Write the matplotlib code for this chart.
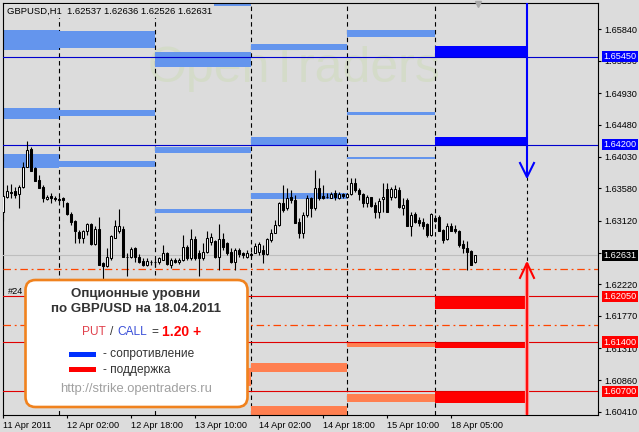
import matplotlib
matplotlib.use('Agg')
import matplotlib.pyplot as plt
from matplotlib.patches import FancyBboxPatch, Rectangle
from matplotlib.transforms import IdentityTransform
import numpy as np

plt.rcParams['font.family'] = ['Liberation Sans', 'DejaVu Sans']

# ---------------- data ----------------
header = "GBPUSD,H1  1.62537 1.62636 1.62526 1.62631"

opens = [1.6325, 1.6346, 1.6353, 1.6354, 1.6350, 1.6360, 1.6389, 1.6414, 1.6387, 1.6370,
         1.6360, 1.6343, 1.6347, 1.6344, 1.6343, 1.6344, 1.6337, 1.6321, 1.6312, 1.6296,
         1.6287, 1.6297, 1.6307, 1.6279, 1.6301, 1.6252, 1.6248, 1.6259, 1.6287, 1.6298,
         1.6300, 1.6261, 1.6260, 1.6273, 1.6260, 1.6255, 1.6250, 1.6254, 1.6254, 1.6253,
         1.6257, 1.6267, 1.6250, 1.6256, 1.6253, 1.6256, 1.6275, 1.6259, 1.6286, 1.6267,
         1.6259, 1.6268, 1.6282, 1.6283, 1.6261, 1.6286, 1.6280, 1.6268, 1.6253, 1.6271,
         1.6267, 1.6261, 1.6265, 1.6267, 1.6268, 1.6270, 1.6265, 1.6285, 1.6295, 1.6306,
         1.6337, 1.6330, 1.6346, 1.6342, 1.6311, 1.6295, 1.6320, 1.6344, 1.6330, 1.6359,
         1.6347, 1.6346, 1.6345, 1.6351, 1.6345, 1.6350, 1.6346, 1.6350, 1.6366, 1.6356,
         1.6350, 1.6337, 1.6346, 1.6335, 1.6325, 1.6343, 1.6357, 1.6346, 1.6346, 1.6356,
         1.6330, 1.6342, 1.6305, 1.6321, 1.6313, 1.6311, 1.6307, 1.6292, 1.6316, 1.6318,
         1.6299, 1.6286, 1.6305, 1.6301, 1.6298, 1.6279, 1.6274, 1.6269, 1.62537]
highs = [1.6350, 1.6363, 1.6364, 1.6360, 1.6363, 1.6396, 1.6425, 1.6416, 1.6389, 1.6377,
         1.6363, 1.6349, 1.6351, 1.6347, 1.6346, 1.6346, 1.6339, 1.6324, 1.6313, 1.6299,
         1.6299, 1.6309, 1.6309, 1.6304, 1.6318, 1.6254, 1.6274, 1.6292, 1.6313, 1.6329,
         1.6304, 1.6266, 1.6275, 1.6275, 1.6265, 1.6259, 1.6259, 1.6257, 1.6259, 1.6261,
         1.6278, 1.6268, 1.6259, 1.6259, 1.6259, 1.6292, 1.6278, 1.6300, 1.6290, 1.6271,
         1.6280, 1.6297, 1.6294, 1.6285, 1.6308, 1.6294, 1.6282, 1.6273, 1.6273, 1.6273,
         1.6268, 1.6271, 1.6268, 1.6280, 1.6282, 1.6278, 1.6287, 1.6301, 1.6313, 1.6339,
         1.6363, 1.6358, 1.6356, 1.6349, 1.6316, 1.6325, 1.6349, 1.6346, 1.6384, 1.6372,
         1.6363, 1.6351, 1.6353, 1.6356, 1.6353, 1.6351, 1.6352, 1.6372, 1.6372, 1.6358,
         1.6351, 1.6349, 1.6346, 1.6339, 1.6344, 1.6365, 1.6365, 1.6360, 1.6363, 1.6360,
         1.6344, 1.6344, 1.6325, 1.6325, 1.6318, 1.6316, 1.6309, 1.6323, 1.6320, 1.6320,
         1.6301, 1.6309, 1.6309, 1.6306, 1.6299, 1.6285, 1.6283, 1.6271, 1.62636]
lows = [1.6312, 1.6344, 1.6344, 1.6344, 1.6330, 1.6359, 1.6388, 1.6382, 1.6368, 1.6358,
        1.6339, 1.6342, 1.6337, 1.6340, 1.6339, 1.6332, 1.6320, 1.6306, 1.6280, 1.6280,
        1.6280, 1.6292, 1.6278, 1.6278, 1.6249, 1.6230, 1.6247, 1.6256, 1.6287, 1.6295,
        1.6260, 1.6234, 1.6259, 1.6254, 1.6252, 1.6248, 1.6248, 1.6249, 1.6247, 1.6251,
        1.6256, 1.6249, 1.6245, 1.6252, 1.6251, 1.6255, 1.6256, 1.6257, 1.6256, 1.6234,
        1.6256, 1.6266, 1.6278, 1.6259, 1.6242, 1.6271, 1.6264, 1.6252, 1.6242, 1.6261,
        1.6259, 1.6259, 1.6261, 1.6266, 1.6264, 1.6252, 1.6264, 1.6282, 1.6294, 1.6304,
        1.6325, 1.6327, 1.6337, 1.6309, 1.6287, 1.6287, 1.6318, 1.6318, 1.6327, 1.6342,
        1.6343, 1.6344, 1.6344, 1.6342, 1.6343, 1.6345, 1.6344, 1.6349, 1.6353, 1.6342,
        1.6332, 1.6332, 1.6332, 1.6316, 1.6316, 1.6325, 1.6325, 1.6342, 1.6344, 1.6330,
        1.6320, 1.6304, 1.6291, 1.6309, 1.6304, 1.6301, 1.6289, 1.6291, 1.6311, 1.6297,
        1.6280, 1.6285, 1.6297, 1.6294, 1.6275, 1.6266, 1.6242, 1.6249, 1.62526]
closes = [1.6347, 1.6354, 1.6352, 1.6349, 1.6360, 1.6389, 1.6412, 1.6383, 1.6369, 1.6359,
          1.6344, 1.6346, 1.6344, 1.6343, 1.6342, 1.6341, 1.6321, 1.6311, 1.6297, 1.6287,
          1.6297, 1.6307, 1.6279, 1.6301, 1.6250, 1.6248, 1.6260, 1.6290, 1.6305, 1.6305,
          1.6261, 1.6260, 1.6272, 1.6261, 1.6254, 1.6249, 1.6255, 1.6253, 1.6253, 1.6259,
          1.6267, 1.6251, 1.6256, 1.6253, 1.6256, 1.6275, 1.6259, 1.6286, 1.6259, 1.6259,
          1.6268, 1.6287, 1.6289, 1.6261, 1.6286, 1.6275, 1.6267, 1.6253, 1.6271, 1.6265,
          1.6263, 1.6267, 1.6264, 1.6276, 1.6279, 1.6265, 1.6286, 1.6294, 1.6306, 1.6337,
          1.6328, 1.6344, 1.6341, 1.6309, 1.6295, 1.6320, 1.6344, 1.6330, 1.6359, 1.6344,
          1.6344, 1.6346, 1.6350, 1.6346, 1.6350, 1.6347, 1.6350, 1.6366, 1.6355, 1.6350,
          1.6337, 1.6346, 1.6333, 1.6325, 1.6340, 1.6346, 1.6325, 1.6357, 1.6357, 1.6331,
          1.6334, 1.6305, 1.6320, 1.6311, 1.6309, 1.6304, 1.6292, 1.6321, 1.6312, 1.6298,
          1.6285, 1.6305, 1.6298, 1.6297, 1.6278, 1.6273, 1.6268, 1.6250, 1.62631]

time_ticks = [0, 16, 32, 48, 64, 80, 96, 112]
time_labels = ["11 Apr 2011", "12 Apr 02:00", "12 Apr 18:00", "13 Apr 10:00",
               "14 Apr 02:00", "14 Apr 18:00", "15 Apr 10:00", "18 Apr 05:00"]
day_breaks = [14, 38, 62, 86, 108]
seg_edges = [-0.25, 14, 38, 62, 86, 108, 131]

# resistance levels (segment index, upper, lower)
res_seg = [0, 0, 0, 1, 1, 1, 1, 2, 2, 2, 2, 3, 3, 3, 4, 4, 4, 5, 5]
res_hi = [1.6583, 1.6472, 1.6407, 1.6630, 1.6581, 1.6469, 1.6397, 1.6630, 1.6551, 1.6417,
          1.6329, 1.6563, 1.6431, 1.6352, 1.6583, 1.6466, 1.6402, 1.6560, 1.6431]
res_lo = [1.6554, 1.6456, 1.6387, 1.6620, 1.6557, 1.6461, 1.6389, 1.6616, 1.6530, 1.6408,
          1.6323, 1.6554, 1.6420, 1.6343, 1.6573, 1.6462, 1.6400, 1.6545, 1.6420]
# support levels
sup_seg = [2, 3, 3, 4, 4, 5, 5, 5]
sup_hi = [1.6103, 1.6110, 1.6049, 1.6139, 1.6066, 1.6205, 1.6140, 1.6070]
sup_lo = [1.6078, 1.6098, 1.6030, 1.6133, 1.6055, 1.6187, 1.6131, 1.6054]

price_ticks = [1.65840, 1.65390, 1.64930, 1.64480, 1.64030, 1.63580, 1.63120,
               1.62670, 1.62220, 1.61770, 1.61310, 1.60860, 1.60410]
res_lines = [1.65450, 1.64200]
sup_lines = [1.62050, 1.61400, 1.60700]
pivot_lines = [1.62437, 1.61643]
last_price = 1.62631
expiry_index = 131
blue_arrow_tip = 1.6374
red_arrow_tip = 1.6252

BG = '#DCDCDC'
ymin, ymax = 1.60366, 1.66213

fig = plt.figure(figsize=(6.39, 4.32), dpi=100, facecolor=BG)
ax = fig.add_axes([2.7 / 639, 17 / 432, (598 - 2.7) / 639, (415 - 2.7) / 432])
ax.set_facecolor(BG)
ax.set_xlim(-0.075, 148.75)
ax.set_ylim(ymin, ymax)

# watermark
ax.text(0.49, 0.84, 'OpenTraders', transform=ax.transAxes, fontsize=36,
        color='#D4DBC9', ha='center', va='center', zorder=0.5)

# day separators
for d in day_breaks:
    ax.axvline(d, color='black', lw=0.8, ls=(0, (4, 3)), zorder=1.5)

# level rectangles
for seg, hi, lo in zip(res_seg, res_hi, res_lo):
    x0, x1 = seg_edges[seg], seg_edges[seg + 1]
    col = '#0000FF' if seg == 5 else '#6495ED'
    ax.bar(x0, hi - lo, width=x1 - x0, bottom=lo, align='edge', color=col, lw=0, zorder=2)
for seg, hi, lo in zip(sup_seg, sup_hi, sup_lo):
    x0, x1 = seg_edges[seg], seg_edges[seg + 1]
    col = '#FF0000' if seg == 5 else '#FF7F50'
    ax.bar(x0, hi - lo, width=x1 - x0, bottom=lo, align='edge', color=col, lw=0, zorder=2)

# horizontal lines
for p in res_lines:
    ax.axhline(p, color='#0000CD', lw=0.8, zorder=3)
for p in sup_lines:
    ax.axhline(p, color='#E00000', lw=0.8, zorder=3)
for p in pivot_lines:
    ax.axhline(p, color='#FF4500', lw=0.9, ls=(0, (6, 3, 1.5, 3)), zorder=3)
ax.axhline(last_price, color='#BEBEBE', lw=0.8, zorder=3)

# expiry arrows
ax.plot([expiry_index, expiry_index], [ymax + 0.001, blue_arrow_tip], color='#0000FF', lw=1.5,
        zorder=6, solid_capstyle='butt')
ax.plot([expiry_index - 1.75, expiry_index, expiry_index + 1.75],
        [blue_arrow_tip + 0.0020, blue_arrow_tip, blue_arrow_tip + 0.0020],
        color='#0000FF', lw=1.5, zorder=6)
ax.plot([expiry_index, expiry_index], [blue_arrow_tip, red_arrow_tip], color='black', lw=0.8,
        ls=(0, (3, 3)), zorder=5)
ax.plot([expiry_index, expiry_index], [red_arrow_tip, ymin - 0.001], color='#FF9090', lw=3,
        zorder=6, solid_capstyle='butt')
ax.plot([expiry_index, expiry_index], [red_arrow_tip, ymin - 0.001], color='#FF0000', lw=1.3,
        zorder=6, solid_capstyle='butt')
ax.plot([expiry_index - 1.75, expiry_index, expiry_index + 1.75],
        [red_arrow_tip - 0.0021, red_arrow_tip, red_arrow_tip - 0.0021],
        color='#FF0000', lw=1.5, zorder=6)

# candles
x = np.arange(len(opens))
o = np.array(opens)
c = np.array(closes)
ax.vlines(x, lows, highs, color='black', lw=0.8, zorder=4)
bull = c >= o
ax.bar(x[bull], c[bull] - o[bull], bottom=o[bull], width=0.5, facecolor='white',
       edgecolor='black', lw=0.75, zorder=5)
ax.bar(x[~bull], o[~bull] - c[~bull], bottom=c[~bull], width=0.5, facecolor='black',
       edgecolor='black', lw=0.75, zorder=5)

# shift marker
ax.plot([118.75], [1.66190], marker='v', color='#A8A8A8', ms=5, zorder=6, clip_on=False)

# axes styling
for s in ax.spines.values():
    s.set_linewidth(0.8)
    s.set_color('black')
ax.yaxis.tick_right()
ax.set_yticks(price_ticks)
ax.set_yticklabels([f"{p:.5f}" for p in price_ticks])
ax.tick_params(axis='y', direction='out', length=2.5, width=0.8, pad=2, labelsize=6.6)
ax.set_xticks(time_ticks)
ax.set_xticklabels(time_labels, ha='left')
ax.tick_params(axis='x', direction='out', length=2.5, width=0.8, pad=1.5, labelsize=6.6)


def price_tag(p, fc):
    ax.annotate(f"{p:.5f}", xy=(1, p), xycoords=('axes fraction', 'data'), xytext=(3.9, 0),
                textcoords='offset points', ha='left', va='center', fontsize=6.6, color='white',
                bbox=dict(boxstyle='square,pad=0.12', fc=fc, ec='none'),
                annotation_clip=False, zorder=10)


for p in res_lines:
    price_tag(p, '#0000FF')
for p in sup_lines:
    price_tag(p, '#FF0000')
price_tag(last_price, '#000000')

# header
idt = IdentityTransform()
fig.text(7, 421, header, transform=idt, ha='left', va='center', fontsize=6.8, color='black',
         bbox=dict(boxstyle='square,pad=0.25', fc=BG, ec='none'), zorder=5)
fig.text(8, 141, '#24', transform=idt, ha='left', va='center', fontsize=6.6, color='black', zorder=5)

# info box
box = FancyBboxPatch((25.5, 25), 222, 127, boxstyle='round,pad=0,rounding_size=10',
                     transform=idt, fc='white', ec='#F0821E', lw=1.9, zorder=6)
fig.add_artist(box)
dark = '#333333'
fig.text(136, 138, 'Опционные уровни', transform=idt, ha='center', va='center',
         fontsize=9.6, fontweight='bold', color=dark, zorder=7)
fig.text(136, 123, 'по GBP/USD на 18.04.2011', transform=idt, ha='center', va='center',
         fontsize=9.6, fontweight='bold', color=dark, zorder=7)
fig.text(82, 100, 'PUT', transform=idt, ha='left', va='center', fontsize=8.6, color='#E0404C', zorder=7)
fig.text(109.5, 100, '/', transform=idt, ha='left', va='center', fontsize=8.6, color=dark, zorder=7)
fig.text(117, 100, 'CALL', transform=idt, ha='left', va='center', fontsize=8.6, color='#3A4FD8', zorder=7)
fig.text(151.5, 100, '=', transform=idt, ha='left', va='center', fontsize=8.6, color=dark, zorder=7)
fig.text(162.5, 100.5, '1.20 +', transform=idt, ha='left', va='center', fontsize=10,
         fontweight='bold', color='#FF0000', zorder=7)
fig.add_artist(Rectangle((69, 75), 27, 5, transform=idt, fc='#0030FF', ec='none', zorder=7))
fig.add_artist(Rectangle((69, 60), 27, 5, transform=idt, fc='#FF0000', ec='none', zorder=7))
fig.text(103, 77.5, '- сопротивление', transform=idt, ha='left', va='center', fontsize=8.6,
         color=dark, zorder=7)
fig.text(103, 62.5, '- поддержка', transform=idt, ha='left', va='center', fontsize=8.6,
         color=dark, zorder=7)
fig.text(136, 43, 'http://strike.opentraders.ru', transform=idt, ha='center', va='center',
         fontsize=9.4, color='#A0A0A0', zorder=7)

fig.savefig('out.png', dpi=100, facecolor=BG)
